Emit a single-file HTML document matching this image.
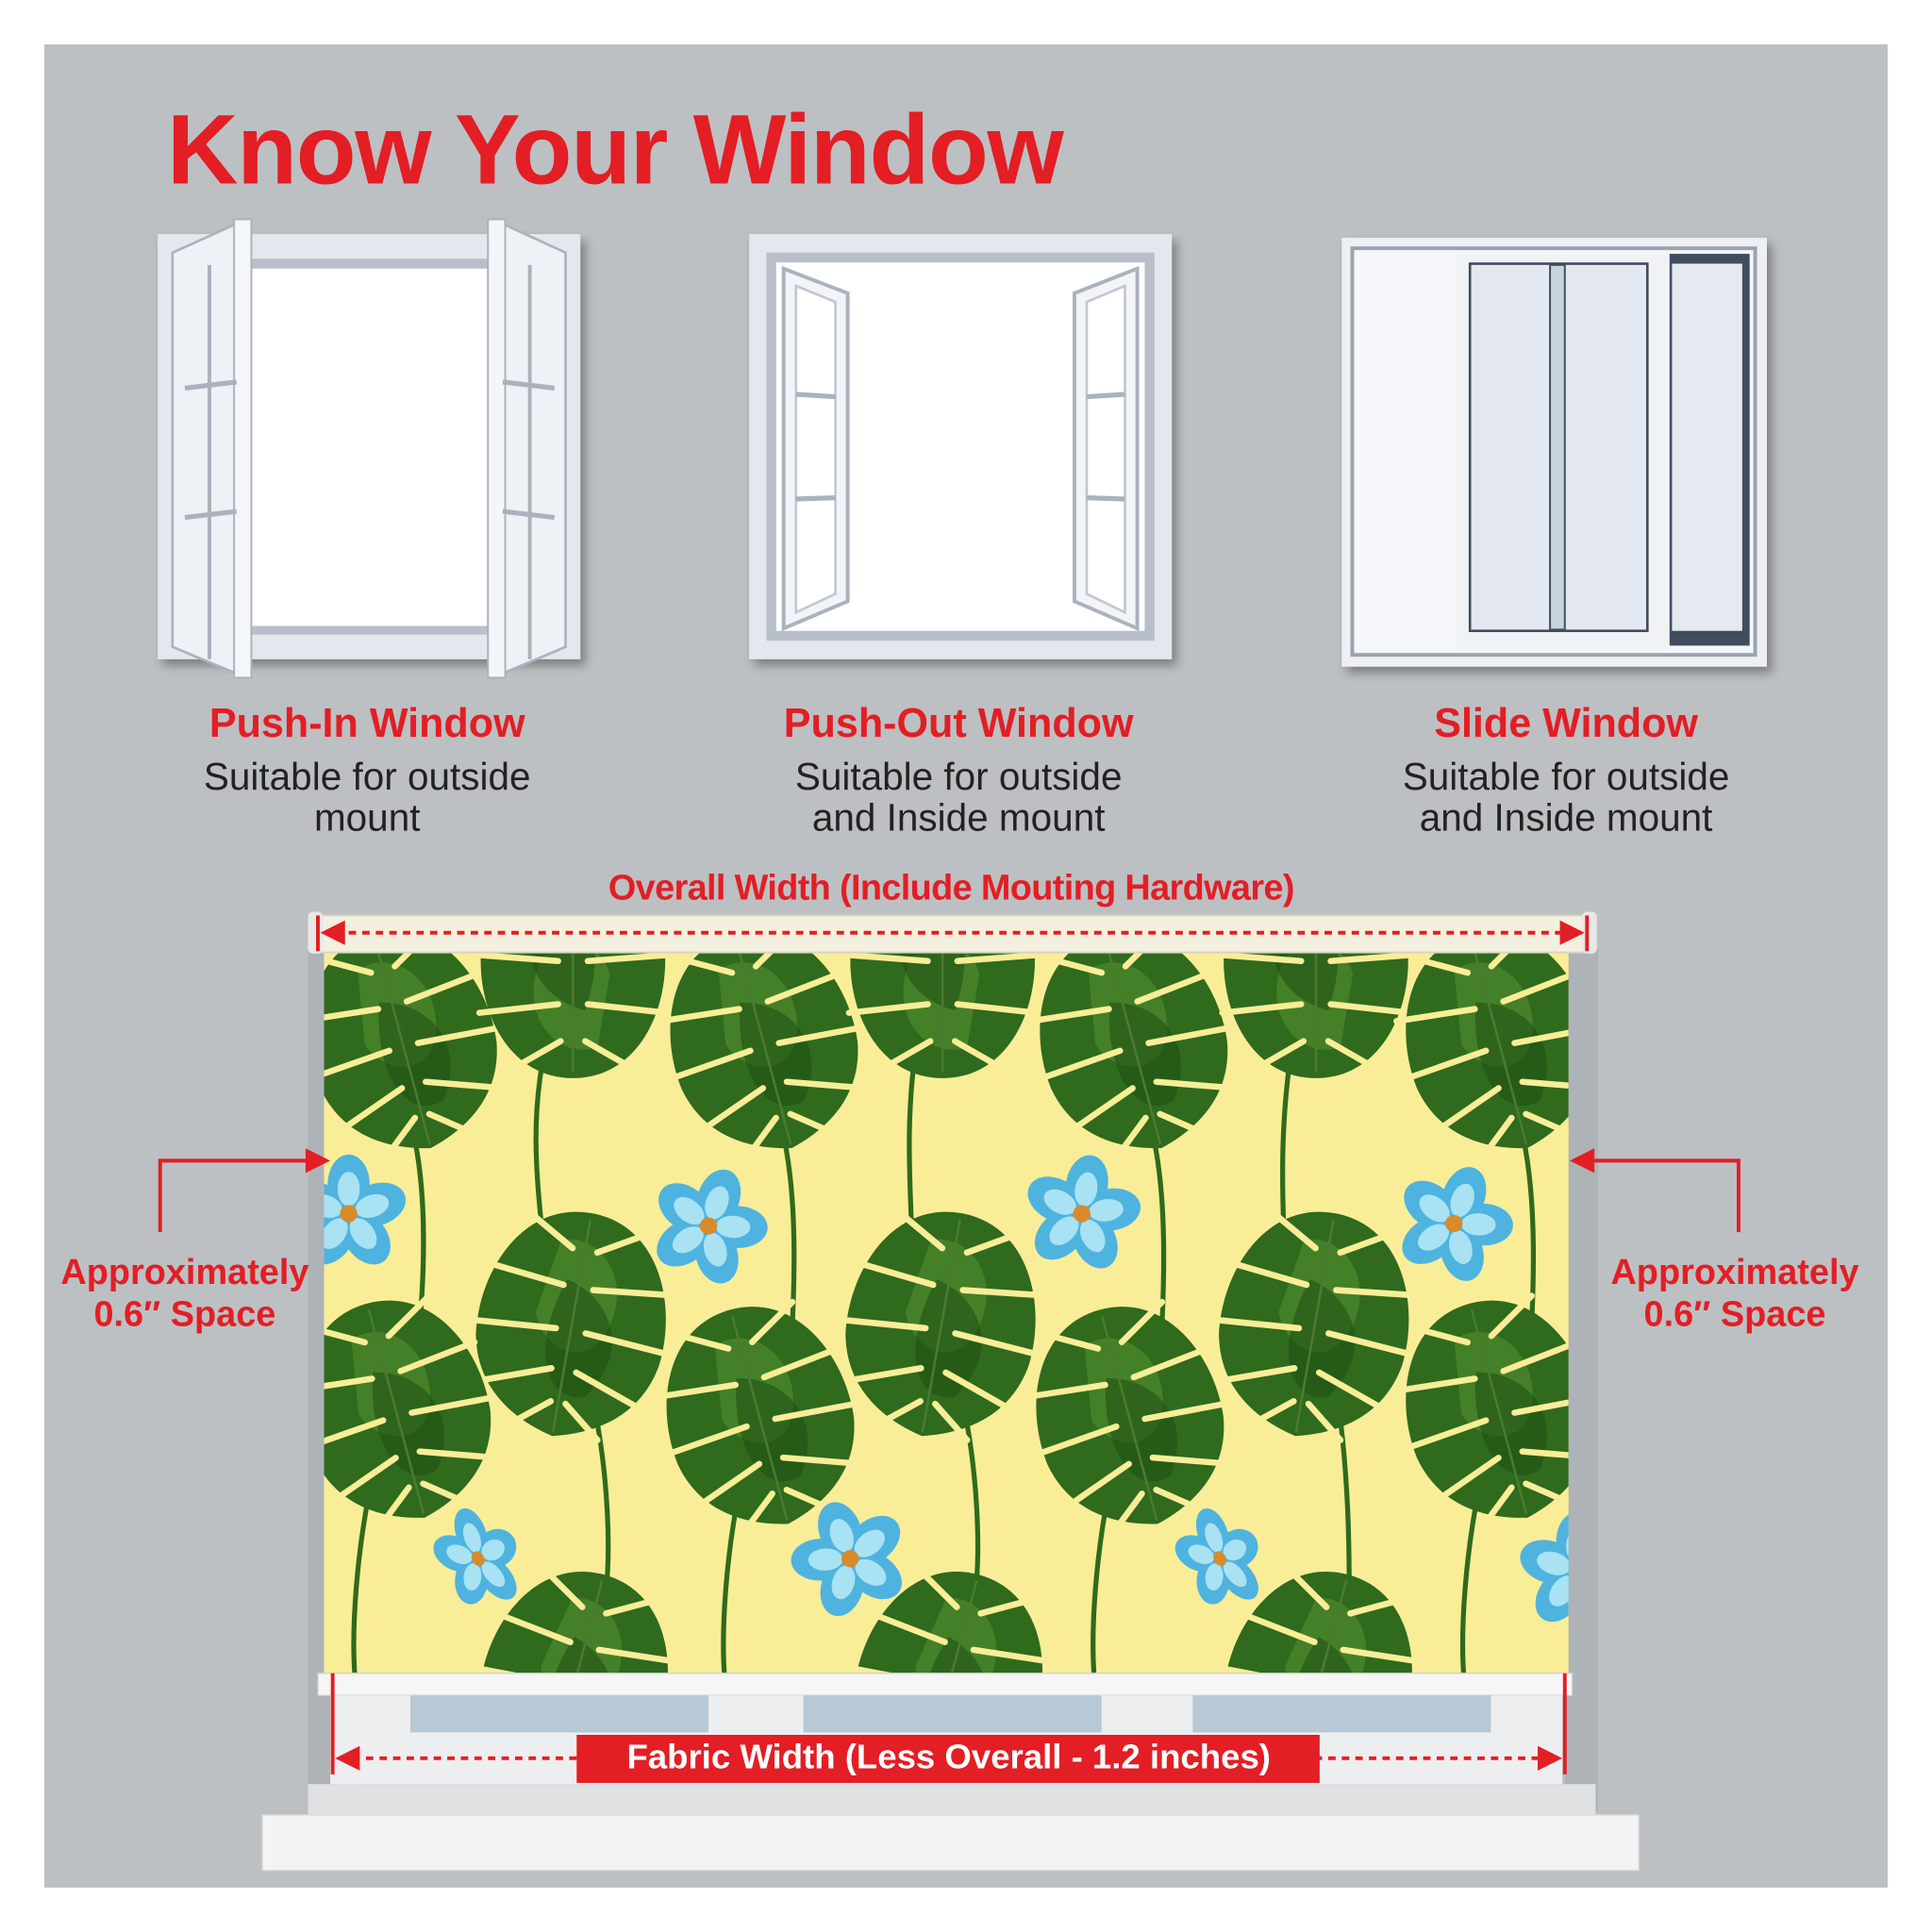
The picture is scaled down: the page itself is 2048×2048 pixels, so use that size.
<!DOCTYPE html>
<html><head><meta charset="utf-8">
<style>
html,body{margin:0;padding:0;background:#fff;}
#wrap{width:1568px;height:1568px;transform:scale(1.30612);transform-origin:0 0;position:relative;overflow:hidden;font-family:"Liberation Sans",sans-serif;}
.t{position:absolute;white-space:nowrap;text-align:center;transform:translateX(-50%);}
.red{color:#e31e24;font-weight:bold;}
.blk{color:#222;font-size:31px;line-height:33px;}
</style></head><body>
<div id="wrap">
<svg width="1568" height="1568" style="position:absolute;left:0;top:0">
<defs>
<filter id="sh" x="-10%" y="-10%" width="130%" height="130%"><feDropShadow dx="4" dy="5" stdDeviation="4" flood-color="#000" flood-opacity="0.35"/></filter>
<clipPath id="fab"><rect x="263" y="772" width="1010" height="588"/></clipPath>
<g id="leaf">
<path d="M0,-85 C55,-85 80,-25 74,25 C66,70 30,88 0,95 C-30,88 -66,70 -74,25 C-80,-25 -55,-85 0,-85Z" fill="#2f6a1d"/>
<path d="M-20,-60 C10,-70 40,-40 30,0 C20,40 -20,30 -30,0Z" fill="#4d8a2c" opacity="0.7"/>
<path d="M-10,-30 C30,-20 50,20 20,60 C-10,70 -30,30 -10,-30Z" fill="#1f5214" opacity="0.6"/>
<g stroke="#f9ed98" stroke-width="5" stroke-linecap="round" fill="none">
<path d="M10,-55 L50,-78"/><path d="M12,-25 L76,-32"/><path d="M12,10 L78,15"/><path d="M10,42 L66,62"/><path d="M6,68 L36,92"/>
<path d="M-10,-55 L-50,-78"/><path d="M-12,-25 L-76,-32"/><path d="M-12,10 L-78,15"/><path d="M-10,42 L-66,62"/><path d="M-6,68 L-36,92"/>
</g>
<path d="M0,-80 L0,92" stroke="#4a7a30" stroke-width="2"/>
</g>
<g id="flower">
<g fill="#4fb3df">
<ellipse cx="0" cy="-24" rx="17" ry="24"/>
<ellipse cx="0" cy="-24" rx="17" ry="24" transform="rotate(72)"/>
<ellipse cx="0" cy="-24" rx="17" ry="24" transform="rotate(144)"/>
<ellipse cx="0" cy="-24" rx="17" ry="24" transform="rotate(216)"/>
<ellipse cx="0" cy="-24" rx="17" ry="24" transform="rotate(288)"/>
</g>
<g fill="#a8e2f3">
<ellipse cx="0" cy="-20" rx="9" ry="14"/>
<ellipse cx="0" cy="-20" rx="9" ry="14" transform="rotate(72)"/>
<ellipse cx="0" cy="-20" rx="9" ry="14" transform="rotate(144)"/>
<ellipse cx="0" cy="-20" rx="9" ry="14" transform="rotate(216)"/>
<ellipse cx="0" cy="-20" rx="9" ry="14" transform="rotate(288)"/>
</g>
<circle r="7" fill="#d98a2a"/>
</g>
</defs>
<rect x="36" y="36" width="1496" height="1496" fill="#bcc0c3"/>

<!-- window 1 push-in -->
<g filter="url(#sh)">
<rect x="128" y="190" width="343" height="345" fill="#e4e8ee"/>
</g>
<rect x="148" y="210" width="303" height="305" fill="#b8bfca"/>
<rect x="158" y="218" width="283" height="290" fill="#ffffff"/>
<polygon points="140,205 200,178 200,550 140,525" fill="#eef1f5" stroke="#aab2be" stroke-width="2"/>
<rect x="190" y="178" width="14" height="372" fill="#f4f6f9" stroke="#aab2be" stroke-width="1.5"/>
<line x1="150" y1="315" x2="192" y2="310" stroke="#aab2be" stroke-width="4"/>
<line x1="150" y1="420" x2="192" y2="415" stroke="#aab2be" stroke-width="4"/>
<line x1="170" y1="215" x2="170" y2="535" stroke="#aab2be" stroke-width="3"/>
<polygon points="459,205 400,178 400,550 459,525" fill="#eef1f5" stroke="#aab2be" stroke-width="2"/>
<rect x="396" y="178" width="14" height="372" fill="#f4f6f9" stroke="#aab2be" stroke-width="1.5"/>
<line x1="408" y1="310" x2="450" y2="315" stroke="#aab2be" stroke-width="4"/>
<line x1="408" y1="415" x2="450" y2="420" stroke="#aab2be" stroke-width="4"/>
<line x1="430" y1="215" x2="430" y2="535" stroke="#aab2be" stroke-width="3"/>

<!-- window 2 push-out -->
<g filter="url(#sh)"><rect x="608" y="190" width="343" height="345" fill="#e4e8ee"/></g>
<rect x="622" y="205" width="315" height="315" fill="#b8bfca"/>
<rect x="630" y="213" width="299" height="299" fill="#ffffff"/>
<polygon points="636,218 688,238 688,488 636,510" fill="#f2f4f8" stroke="#aab2be" stroke-width="3"/>
<polygon points="646,232 678,245 678,482 646,497" fill="#fff" stroke="#c0c7d1" stroke-width="2"/>
<line x1="646" y1="320" x2="678" y2="322" stroke="#aab2be" stroke-width="4"/>
<line x1="646" y1="405" x2="678" y2="404" stroke="#aab2be" stroke-width="4"/>
<polygon points="923,218 872,238 872,488 923,510" fill="#f2f4f8" stroke="#aab2be" stroke-width="3"/>
<polygon points="913,232 882,245 882,482 913,497" fill="#fff" stroke="#c0c7d1" stroke-width="2"/>
<line x1="882" y1="322" x2="913" y2="320" stroke="#aab2be" stroke-width="4"/>
<line x1="882" y1="404" x2="913" y2="405" stroke="#aab2be" stroke-width="4"/>

<!-- window 3 slide -->
<g filter="url(#sh)"><rect x="1089" y="193" width="345" height="348" fill="#eef0f4"/></g>
<rect x="1096" y="200" width="330" height="333" fill="#9aa3b0"/>
<rect x="1099" y="203" width="324" height="327" fill="#f4f6f9"/>
<rect x="1182" y="207" width="172" height="320" fill="#f0f2f6"/>
<rect x="1192" y="213" width="146" height="300" fill="#3f4d5e"/>
<rect x="1194" y="215" width="142" height="296" fill="#e4e8f0"/>
<rect x="1258" y="215" width="12" height="296" fill="#c9d3de" stroke="#3f4d5e" stroke-width="1.5"/>
<rect x="1355" y="206" width="65" height="318" fill="#3f4d5e"/>
<rect x="1357" y="214" width="57" height="298" fill="#e6e9f0"/>

<!-- blind area -->
<rect x="250" y="770" width="45" height="700" fill="#aeb3b8"/>
<rect x="1270" y="770" width="27" height="700" fill="#aeb3b8"/>
<rect x="263" y="772" width="1010" height="588" fill="#f9ed98"/>
<g clip-path="url(#fab)">
<g stroke="#2f6a1d" stroke-width="4" fill="none">
<path d="M330,900 C350,960 345,1050 335,1130"/>
<path d="M445,840 C430,900 435,950 440,1000"/>
<path d="M630,900 C650,960 645,1050 640,1130"/>
<path d="M745,840 C735,900 738,950 740,1000"/>
<path d="M930,900 C950,960 945,1050 940,1130"/>
<path d="M1050,840 C1040,900 1040,950 1042,1000"/>
<path d="M1230,900 C1250,960 1245,1050 1240,1130"/>
<path d="M300,1210 C290,1260 285,1320 288,1360"/>
<path d="M480,1130 C495,1200 495,1260 492,1290"/>
<path d="M600,1210 C590,1260 585,1320 588,1360"/>
<path d="M780,1130 C795,1200 795,1260 792,1290"/>
<path d="M900,1210 C890,1260 885,1320 888,1360"/>
<path d="M1085,1130 C1095,1200 1095,1260 1095,1290"/>
<path d="M1200,1210 C1190,1260 1185,1320 1188,1360"/>
</g>
<use href="#leaf" transform="translate(325,840) rotate(-15)"/>
<use href="#leaf" transform="translate(465,790) rotate(180)"/>
<use href="#leaf" transform="translate(618,840) rotate(-15)"/>
<use href="#leaf" transform="translate(765,790) rotate(180)"/>
<use href="#leaf" transform="translate(918,840) rotate(-15)"/>
<use href="#leaf" transform="translate(1068,790) rotate(180)"/>
<use href="#leaf" transform="translate(1215,840) rotate(-15)"/>
<use href="#leaf" transform="translate(465,1070) rotate(10) scale(1.02)"/>
<use href="#leaf" transform="translate(765,1070) rotate(10) scale(1.02)"/>
<use href="#leaf" transform="translate(1068,1070) rotate(10) scale(1.02)"/>
<use href="#leaf" transform="translate(320,1140) rotate(-15)"/>
<use href="#leaf" transform="translate(615,1145) rotate(-15)"/>
<use href="#leaf" transform="translate(915,1145) rotate(-15)"/>
<use href="#leaf" transform="translate(1215,1140) rotate(-15)"/>
<use href="#leaf" transform="translate(468,1360) rotate(15)"/>
<use href="#leaf" transform="translate(772,1360) rotate(15)"/>
<use href="#leaf" transform="translate(1072,1360) rotate(15)"/>
<use href="#flower" transform="translate(283,985)"/>
<use href="#flower" transform="translate(575,995) rotate(20)"/>
<use href="#flower" transform="translate(878,985) rotate(10)"/>
<use href="#flower" transform="translate(1180,993) rotate(20)"/>
<use href="#flower" transform="translate(388,1265) rotate(60) scale(0.9,0.7)"/>
<use href="#flower" transform="translate(690,1265) rotate(-20)"/>
<use href="#flower" transform="translate(990,1265) rotate(60) scale(0.9,0.7)"/>
<use href="#flower" transform="translate(1280,1275)"/>
</g>
<!-- roller -->
<rect x="255" y="743" width="1038" height="30" rx="6" fill="#f3f0e0" stroke="#d8d4c4" stroke-width="1.5"/>
<rect x="250" y="740" width="12" height="34" rx="4" fill="#e8e8e8"/>
<rect x="1284" y="740" width="12" height="34" rx="4" fill="#e8e8e8"/>
<!-- bottom -->
<rect x="258" y="1358" width="1018" height="18" fill="#f6f6f6" stroke="#cfcfcf"/>
<rect x="268" y="1376" width="1000" height="72" fill="#eceef0"/>
<rect x="333" y="1376" width="242" height="30" fill="#b7c8d6"/>
<rect x="652" y="1376" width="242" height="30" fill="#b7c8d6"/>
<rect x="968" y="1376" width="242" height="30" fill="#b7c8d6"/>
<rect x="250" y="1448" width="1045" height="25" fill="#dfe1e3"/>
<rect x="213" y="1473" width="1117" height="45" fill="#f3f3f3" stroke="#dadada"/>

<!-- dims -->
<g stroke="#e31e24" stroke-width="3" fill="none">
<line x1="272" y1="757" x2="1275" y2="757" stroke-dasharray="6,5"/>
<line x1="286" y1="1427" x2="1255" y2="1427" stroke-dasharray="6,5"/>
<line x1="258" y1="743" x2="258" y2="772"/>
<line x1="1288" y1="743" x2="1288" y2="772"/>
<line x1="270" y1="1358" x2="270" y2="1440"/>
<line x1="1270" y1="1358" x2="1270" y2="1440"/>
<polyline points="130,1000 130,942 255,942"/>
<polyline points="1411,1000 1411,942 1290,942"/>
</g>
<g fill="#e31e24">
<polygon points="260,757 280,747 280,767"/>
<polygon points="1286,757 1266,747 1266,767"/>
<polygon points="272,1427 292,1417 292,1437"/>
<polygon points="1268,1427 1248,1417 1248,1437"/>
<polygon points="268,942 248,932 248,952"/>
<polygon points="1274,942 1294,932 1294,952"/>
<rect x="468" y="1408" width="603" height="39"/>
</g>
</svg>

<div class="t red" style="left:499px;top:76px;font-size:80px;letter-spacing:-1px;">Know Your Window</div>
<div class="t red" style="left:298px;top:568px;font-size:33px;">Push-In Window</div>
<div class="t blk" style="left:298px;top:614px;">Suitable for outside<br>mount</div>
<div class="t red" style="left:778px;top:568px;font-size:33px;">Push-Out Window</div>
<div class="t blk" style="left:778px;top:614px;">Suitable for outside<br>and Inside mount</div>
<div class="t red" style="left:1271px;top:568px;font-size:33px;">Slide Window</div>
<div class="t blk" style="left:1271px;top:614px;">Suitable for outside<br>and Inside mount</div>
<div class="t red" style="left:772px;top:705px;font-size:29px;letter-spacing:-0.5px;">Overall Width (Include Mouting Hardware)</div>
<div class="t red" style="left:150px;top:1016px;font-size:29px;line-height:34px;">Approximately<br>0.6″ Space</div>
<div class="t red" style="left:1408px;top:1016px;font-size:29px;line-height:34px;">Approximately<br>0.6″ Space</div>
<div class="t" style="left:770px;top:1410px;font-size:28px;color:#fff;font-weight:bold;">Fabric Width (Less Overall - 1.2 inches)</div>
</div>
</body></html>
